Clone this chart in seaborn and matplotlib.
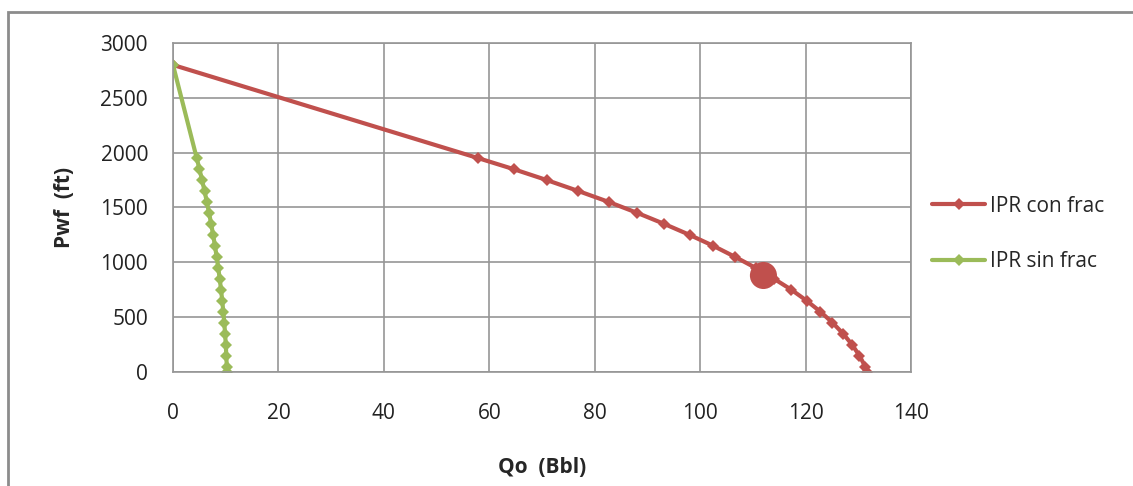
import matplotlib
matplotlib.use("Agg")
import matplotlib.pyplot as plt
import seaborn as sns
import pandas as pd
from matplotlib.patches import Rectangle

# Bottom-hole flowing pressure (ft) and oil rate (Bbl) for each IPR curve
pwf = [2800, 1950, 1850, 1750, 1650, 1550, 1450, 1350, 1250, 1150, 1050,
       950, 850, 750, 650, 550, 450, 350, 250, 150, 50, 0]
qo_con_frac = [0.0, 57.9, 64.6, 70.9, 76.9, 82.7, 88.1, 93.2, 98.0, 102.5, 106.6,
               110.5, 114.0, 117.3, 120.2, 122.8, 125.1, 127.1, 128.8, 130.2, 131.3, 131.7]
qo_sin_frac = [0.0, 4.50, 5.02, 5.51, 5.98, 6.42, 6.84, 7.24, 7.61, 7.96, 8.28,
               8.58, 8.86, 9.11, 9.34, 9.54, 9.72, 9.88, 10.01, 10.11, 10.20, 10.23]

# Operating point on the fractured-well curve
op_qo = [112.0]
op_pwf = [880]

series_names = ["IPR con frac", "IPR sin frac"]
x_ticks = [0, 20, 40, 60, 80, 100, 120, 140]
y_ticks = [0, 500, 1000, 1500, 2000, 2500, 3000]

red = "#C0504D"
green = "#9BBB59"
grid_gray = "#969696"
frame_gray = "#8C8C8C"
fs = 15

sns.set_style("white")
plt.rcParams["font.family"] = ["Open Sans", "DejaVu Sans"]

df = pd.concat([
    pd.DataFrame({"Qo": qo_con_frac, "Pwf": pwf, "serie": series_names[0]}),
    pd.DataFrame({"Qo": qo_sin_frac, "Pwf": pwf, "serie": series_names[1]}),
])

fig = plt.figure(figsize=(11.33, 4.86), dpi=100)
ax = fig.add_axes([0.1527, 0.2346, 0.8041 - 0.1527, 0.9115 - 0.2346])

# outer chart frame
fig.patches.append(Rectangle((8 / 1133, -0.2), 1.2, 1 - 12 / 486 + 0.2,
                             transform=fig.transFigure, fill=False,
                             edgecolor=frame_gray, linewidth=2.0, zorder=0))

sns.lineplot(data=df, x="Qo", y="Pwf", hue="serie", sort=False,
             palette={series_names[0]: red, series_names[1]: green},
             marker="D", markersize=6.5, markeredgewidth=0, linewidth=3.0,
             ax=ax, legend=True)

sns.scatterplot(x=op_qo, y=op_pwf, color=red, s=380, edgecolor="none",
                ax=ax, zorder=5, legend=False)

ax.set_xlim(0, 140)
ax.set_ylim(0, 3000)
ax.set_xticks(x_ticks)
ax.set_yticks(y_ticks)
ax.grid(True, color=grid_gray, linewidth=1.2)
ax.set_axisbelow(True)
for sp in ax.spines.values():
    sp.set_color(grid_gray)
    sp.set_linewidth(1.2)
ax.tick_params(axis="both", length=0, labelsize=fs, colors="#222222")
ax.tick_params(axis="x", pad=22)
ax.tick_params(axis="y", pad=18)

ax.set_xlabel("Qo  (Bbl)", fontsize=fs, fontweight="bold", labelpad=24)
ax.set_ylabel("Pwf  (ft)", fontsize=fs, fontweight="bold", labelpad=18)

handles, labels = ax.get_legend_handles_labels()
ax.legend(handles, labels, loc="center left", bbox_to_anchor=(1.0285, 0.42),
          frameon=False, fontsize=fs, handlelength=2.55, handletextpad=0.25,
          labelspacing=1.65, borderpad=0, borderaxespad=0)

fig.savefig("out.png", dpi=100)
